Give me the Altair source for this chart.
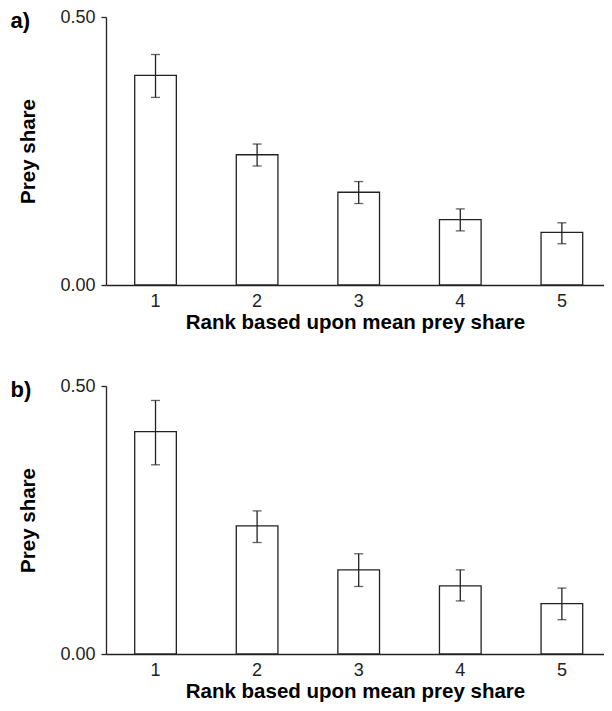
import altair as alt
import pandas as pd

ranks = ["1", "2", "3", "4", "5"]
a_mean = [0.391, 0.243, 0.173, 0.122, 0.098]
a_lo = [0.350, 0.222, 0.152, 0.101, 0.077]
a_hi = [0.430, 0.263, 0.193, 0.142, 0.116]
b_mean = [0.415, 0.239, 0.157, 0.127, 0.094]
b_lo = [0.353, 0.208, 0.126, 0.099, 0.064]
b_hi = [0.473, 0.267, 0.187, 0.157, 0.123]

FONT = "Liberation Sans"
INK = "#222222"
XSCALE = alt.Scale(paddingInner=0.59, paddingOuter=0.246, align=0.574)


def panel(label, mean, lo, hi):
    df = pd.DataFrame({"rank": ranks, "mean": mean, "lo": lo, "hi": hi})
    x_bottom = alt.X(
        "rank:N",
        sort=ranks,
        scale=XSCALE,
        axis=alt.Axis(
            title="Rank based upon mean prey share",
            labelAngle=0,
            ticks=False,
            labelPadding=7,
            labelFontSize=18,
            titleFontSize=20.5,
            titleFontWeight="bold",
            titlePadding=2,
        ),
    )
    x_top = alt.X(
        "rank:N",
        sort=ranks,
        scale=XSCALE,
        axis=alt.Axis(
            orient="top",
            title=label,
            labels=False,
            ticks=False,
            domain=False,
            grid=False,
            titleX=-96,
            titleY=10,
            titleAngle=0,
            titleAlign="left",
            titleBaseline="alphabetic",
            titleFontSize=22,
            titleFontWeight="bold",
            titleColor="black",
        ),
    )
    x_none = alt.X("rank:N", sort=ranks, scale=XSCALE, axis=None)
    y = alt.Y(
        "mean:Q",
        scale=alt.Scale(domain=[0, 0.5]),
        axis=alt.Axis(
            title="Prey share",
            values=[0, 0.5],
            format=".2f",
            grid=False,
            tickSize=5,
            labelPadding=6,
            labelFontSize=18,
            titleFontSize=20.5,
            titleFontWeight="bold",
            titlePadding=21,
        ),
    )
    base = alt.Chart(df)
    bars = base.mark_bar(fill="white", stroke=INK, strokeWidth=1.3).encode(x=x_bottom, y=y)
    rule = base.mark_rule(color=INK, strokeWidth=1.3).encode(
        x=x_top, y=alt.Y("lo:Q", title="Prey share"), y2="hi:Q"
    )
    cap_hi = base.mark_tick(color=INK, size=9, thickness=1.3, orient="horizontal").encode(
        x=x_none, y=alt.Y("hi:Q", title="Prey share")
    )
    cap_lo = base.mark_tick(color=INK, size=9, thickness=1.3, orient="horizontal").encode(
        x=x_none, y=alt.Y("lo:Q", title="Prey share")
    )
    return (
        alt.layer(bars, rule, cap_hi, cap_lo)
        .resolve_axis(x="independent")
        .properties(width=498, height=268)
    )


chart = (
    alt.vconcat(
        panel("a)", a_mean, a_lo, a_hi),
        panel("b)", b_mean, b_lo, b_hi),
        spacing=44,
    )
    .properties(padding={"left": 2, "top": 0, "right": 0, "bottom": 0})
    .configure_view(stroke=None)
    .configure_axis(
        labelFont=FONT,
        titleFont=FONT,
        labelColor=INK,
        titleColor="black",
        domainColor=INK,
        tickColor=INK,
        domainWidth=1.3,
        tickWidth=1.3,
    )
)

chart.save("out.html", embed_options={"renderer": "svg", "actions": False})
